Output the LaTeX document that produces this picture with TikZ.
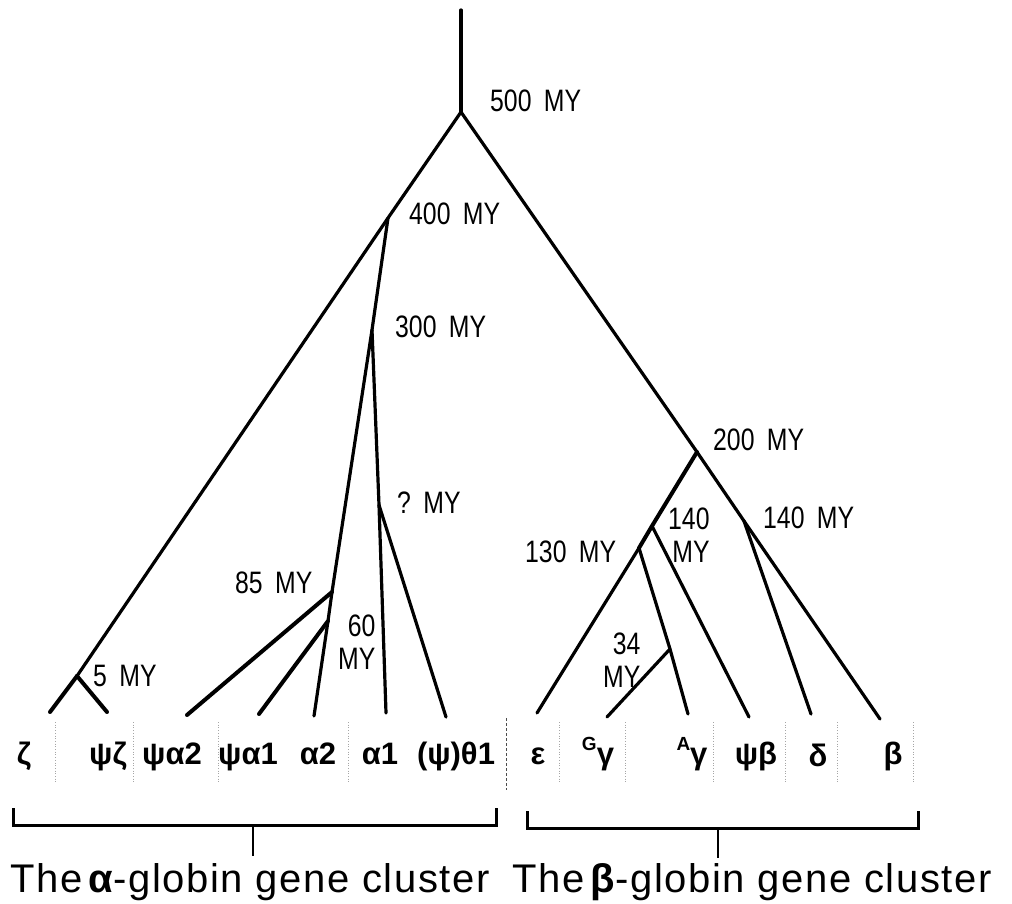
\documentclass[tikz,border=0pt]{standalone}
\usepackage{fontspec}
\setmainfont{Liberation Sans}
\newfontfamily\labfont[FakeStretch=0.8]{Liberation Sans}
\newfontfamily\titlefont[LetterSpace=4]{Liberation Sans}
\begin{document}
\begin{tikzpicture}[x=1pt,y=-1pt,
  branch/.style={line width=3.2pt, line cap=round},
  heavy/.style={line width=4pt, line cap=round},
  mylab/.style={font=\labfont\fontsize{31pt}{33pt}\selectfont, inner sep=0pt},
  gene/.style={font=\bfseries\fontsize{31pt}{33pt}\selectfont, inner sep=0pt, anchor=base},
  ttl/.style={font=\titlefont\fontsize{40pt}{42pt}\selectfont, inner sep=0pt, anchor=base west},
  sepline/.style={draw=black!35, line width=0.7pt, dotted},
  brack/.style={line width=3pt, line cap=butt}]
\useasboundingbox (0,0) rectangle (1012,904);
% tree points
\coordinate (top) at (461,10);
\coordinate (n500) at (461,112);
\coordinate (n400) at (388,218);
\coordinate (n5) at (77,676);
\coordinate (zeta) at (50,712);
\coordinate (psizeta) at (107,712);
\coordinate (n300) at (372,330);
\coordinate (n85) at (332,592);
\coordinate (n60) at (328,621);
\coordinate (psia2) at (187,715);
\coordinate (psia1) at (259,714);
\coordinate (a2) at (314,716);
\coordinate (nQ) at (379,505);
\coordinate (a1) at (386,713);
\coordinate (theta) at (446,717);
\coordinate (n200) at (697,452);
\coordinate (n140r) at (744,521);
\coordinate (delta) at (811,714);
\coordinate (beta) at (880,719);
\coordinate (n140l) at (652,526);
\coordinate (n130) at (639,548);
\coordinate (eps) at (537,713);
\coordinate (psib) at (749,717);
\coordinate (n34) at (670,649);
\coordinate (Ay) at (688,714);
\coordinate (Gy) at (607,717);
% branches
\draw[branch] (top) -- (n500);
\draw[branch] (n500) -- (n400) -- (n5);
\draw[heavy] (n5) -- (zeta);
\draw[heavy] (n5) -- (psizeta);
\draw[branch] (n400) -- (n300) -- (n85) -- (n60) -- (a2);
\draw[heavy] (n85) -- (psia2);
\draw[heavy] (n60) -- (psia1);
\draw[branch] (n300) -- (nQ) -- (a1);
\draw[branch] (nQ) -- (theta);
\draw[branch] (n500) -- (n200) -- (n140r) -- (beta);
\draw[branch] (n140r) -- (delta);
\draw[heavy] (n200) -- (n140l) -- (n130);
\draw[branch] (n130) -- (eps);
\draw[branch] (n140l) -- (psib);
\draw[branch] (n130) -- (n34) -- (Ay);
\draw[branch] (n34) -- (Gy);
% time labels
\node[mylab, anchor=base west] (l500) at (490,112) {500\hspace{0.4em}MY};
\node[mylab, anchor=base west] (l400) at (409,225) {400\hspace{0.4em}MY};
\node[mylab, anchor=base west] (l300) at (395,337) {300\hspace{0.4em}MY};
\node[mylab, anchor=base west] (lq) at (397,513) {?\hspace{0.4em}MY};
\node[mylab, anchor=base west] (l85) at (235,593) {85\hspace{0.4em}MY};
\node[mylab, anchor=north west, align=right] (l60) at (338,615) {60\\MY};
\node[mylab, anchor=base west] (l5) at (93,686) {5\hspace{0.4em}MY};
\node[mylab, anchor=base west] (l200) at (713,450) {200\hspace{0.4em}MY};
\node[mylab, anchor=north west, align=right] (l140a) at (668,508) {140\\MY};
\node[mylab, anchor=base west] (l140b) at (763,528) {140\hspace{0.4em}MY};
\node[mylab, anchor=base west] (l130) at (525,562) {130\hspace{0.4em}MY};
\node[mylab, anchor=north west, align=right] (l34) at (603,633) {34\\MY};
% separators
\foreach \sx in {55,133,218,348,559,625,713,785,837,913}
  \draw[sepline] (\sx,722) -- (\sx,782);
\draw[draw=black!70, line width=0.9pt, densely dashed] (506,718) -- (506,790);
% gene labels
\node[gene] (gz) at (24,764) {ζ};
\node[gene] (gpz) at (108,764) {ψζ};
\node[gene] (gpa2) at (172,764) {ψα2};
\node[gene] (gpa1) at (248,764) {ψα1};
\node[gene] (ga2) at (318,764) {α2};
\node[gene] (ga1) at (380,764) {α1};
\node[gene] (gth) at (456,764) {(ψ)θ1};
\node[gene] (geps) at (538,764) {ε};
\node[gene] (gGy) at (598,764) {\raisebox{0.42em}{\fontsize{19pt}{19pt}\selectfont G}γ};
\node[gene] (gAy) at (692,764) {\raisebox{0.42em}{\fontsize{19pt}{19pt}\selectfont A}γ};
\node[gene] (gpb) at (756,764) {ψβ};
\node[gene] (gd) at (818,766) {δ};
\node[gene] (gb) at (893,764) {β};
% brackets
\coordinate (la) at (13,808);
\coordinate (lb) at (13,825);
\coordinate (lc) at (496,825);
\coordinate (ld) at (496,808);
\coordinate (lm) at (253,825);
\coordinate (lt) at (253,856);
\draw[brack] (la) -- (lb) -- (lc) -- (ld);
\draw[line width=2.5pt] (lm) -- (lt);
\coordinate (ra) at (527,811);
\coordinate (rb) at (527,828);
\coordinate (rc) at (918,828);
\coordinate (rd) at (918,811);
\coordinate (rm) at (718,828);
\coordinate (rt) at (718,858);
\draw[brack] (ra) -- (rb) -- (rc) -- (rd);
\draw[line width=2.5pt] (rm) -- (rt);
% titles
\node[ttl] (ta) at (10,892) {The{\bfseries\,α}-globin gene cluster};
\node[ttl] (tb) at (512,892) {The{\bfseries\,β}-globin gene cluster};
\end{tikzpicture}
\end{document}
